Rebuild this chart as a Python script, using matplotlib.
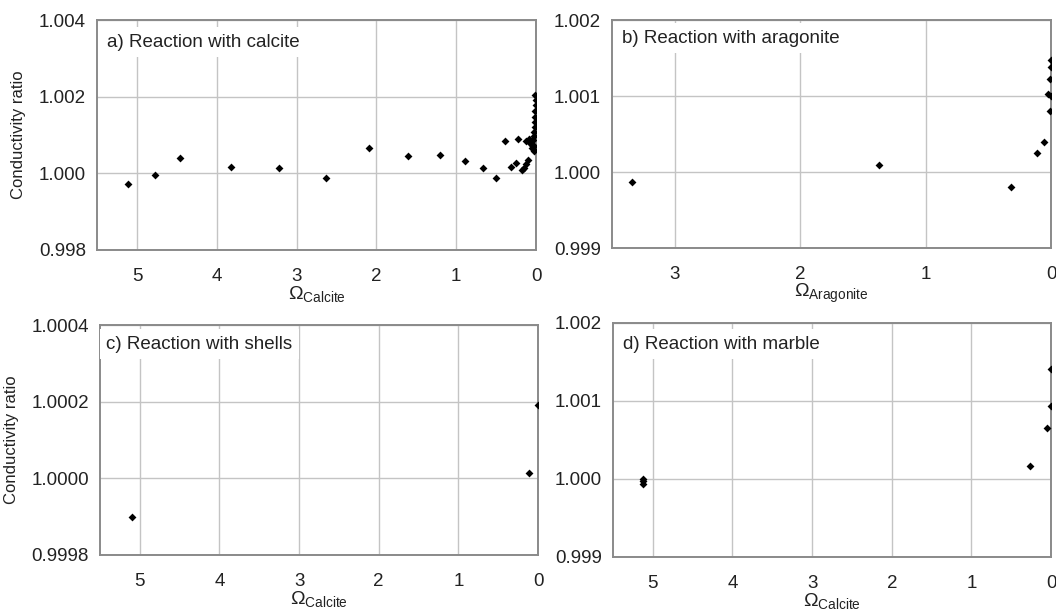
import matplotlib
matplotlib.use("Agg")
import matplotlib.pyplot as plt
from matplotlib.ticker import FixedLocator

plt.rcParams['font.family'] = ['Liberation Sans', 'DejaVu Sans']
plt.rcParams['mathtext.fontset'] = 'custom'
plt.rcParams['mathtext.rm'] = 'Liberation Sans'
plt.rcParams['mathtext.it'] = 'Liberation Sans:italic'

# ---- data ----
x_a = [5.11, 4.78, 4.46, 3.82, 3.22, 2.63, 2.09, 1.60, 1.20, 0.89, 0.67, 0.50,
       0.39, 0.31, 0.25, 0.22, 0.18, 0.15, 0.12, 0.10, 0.12, 0.09, 0.07, 0.055,
       0.025, 0.012, 0.006, 0.005, 0.008, 0.010, 0.012, 0.015, 0.020, 0.030,
       0.040, 0.050, 0.080, 0.030, 0.020]
y_a = [0.99971, 0.99996, 1.00041, 1.00016, 1.00013, 0.99988, 1.00067, 1.00044,
       1.00047, 1.00032, 1.00013, 0.99988, 1.00084, 1.00016, 1.00028, 1.00090,
       1.00009, 1.00015, 1.00024, 1.00034, 1.00085, 1.00090, 1.00080, 1.00066,
       1.00057, 1.00205, 1.00192, 1.00178, 1.00162, 1.00148, 1.00135, 1.00121,
       1.00108, 1.00097, 1.00088, 1.00075, 1.00088, 1.00072, 1.00062]

x_b = [3.34, 1.37, 0.32, 0.11, 0.054, 0.010, 0.026, 0.000, 0.005, 0.002, 0.002]
y_b = [0.99987, 1.00009, 0.99980, 1.00025, 1.00040, 1.00080, 1.00103, 1.00100,
       1.00123, 1.00138, 1.00147]

x_c = [5.10, 0.11, 0.005]
y_c = [0.99990, 1.000015, 1.000192]

x_d = [5.12, 5.12, 5.12, 0.27, 0.046, 0.004, 0.000]
y_d = [1.00000, 0.99997, 0.99994, 1.00017, 1.00066, 1.00093, 1.00141]

titles = ['a) Reaction with calcite', 'b) Reaction with aragonite',
          'c) Reaction with shells', 'd) Reaction with marble']
xlabels = [r'$\Omega_{\mathrm{Calcite}}$', r'$\Omega_{\mathrm{Aragonite}}$',
           r'$\Omega_{\mathrm{Calcite}}$', r'$\Omega_{\mathrm{Calcite}}$']
xlims = [(5.5, 0), (3.5, 0), (5.5, 0), (5.5, 0)]
xticks = [[5, 4, 3, 2, 1, 0], [3, 2, 1, 0], [5, 4, 3, 2, 1, 0], [5, 4, 3, 2, 1, 0]]
ylims = [(0.998, 1.004), (0.999, 1.002), (0.9998, 1.0004), (0.999, 1.002)]
yticks = [[0.998, 1.000, 1.002, 1.004], [0.999, 1.000, 1.001, 1.002],
          [0.9998, 1.0000, 1.0002, 1.0004], [0.999, 1.000, 1.001, 1.002]]
yfmt = ['{:.3f}', '{:.3f}', '{:.4f}', '{:.3f}']

fig = plt.figure(figsize=(10.56, 6.10), dpi=100)
rects = [(0.0919, 0.5902, 0.4157, 0.3770),
         (0.5795, 0.5934, 0.4158, 0.3738),
         (0.0947, 0.0902, 0.4148, 0.3770),
         (0.5805, 0.0869, 0.4148, 0.3836)]
label_pos = [(0.023, 0.904), (0.023, 0.92), (0.014, 0.917), (0.023, 0.91)]
data = [(x_a, y_a), (x_b, y_b), (x_c, y_c), (x_d, y_d)]

for i in range(4):
    ax = fig.add_axes(rects[i])
    xs, ys = data[i]
    ax.set_xlim(*xlims[i])
    ax.set_ylim(*ylims[i])
    ax.xaxis.set_major_locator(FixedLocator(xticks[i]))
    ax.yaxis.set_major_locator(FixedLocator(yticks[i]))
    ax.set_yticklabels([yfmt[i].format(v) for v in yticks[i]])
    ax.grid(True, color='#c4c4c4', linewidth=1.0, zorder=0)
    ax.scatter(xs, ys, marker='D', s=16, color='black', zorder=3, linewidths=0)
    for sp in ax.spines.values():
        sp.set_color('#8a8a8a')
        sp.set_linewidth(1.4)
    ax.tick_params(length=0, labelsize=13.5, labelcolor='#222222')
    ax.tick_params(axis='x', pad=13)
    ax.tick_params(axis='y', pad=8)
    ax.set_xlabel(xlabels[i], fontsize=14, labelpad=-1, color='#222222')
    if i in (0, 2):
        ax.set_ylabel('Conductivity ratio', fontsize=12, color='#222222',
                      labelpad=9)
    ax.text(label_pos[i][0], label_pos[i][1], titles[i], transform=ax.transAxes,
            fontsize=13.5, color='#222222', va='center', ha='left', zorder=4,
            bbox=dict(boxstyle='square,pad=0.35', facecolor='white',
                      edgecolor='none'))

fig.savefig('out.png', dpi=100)
